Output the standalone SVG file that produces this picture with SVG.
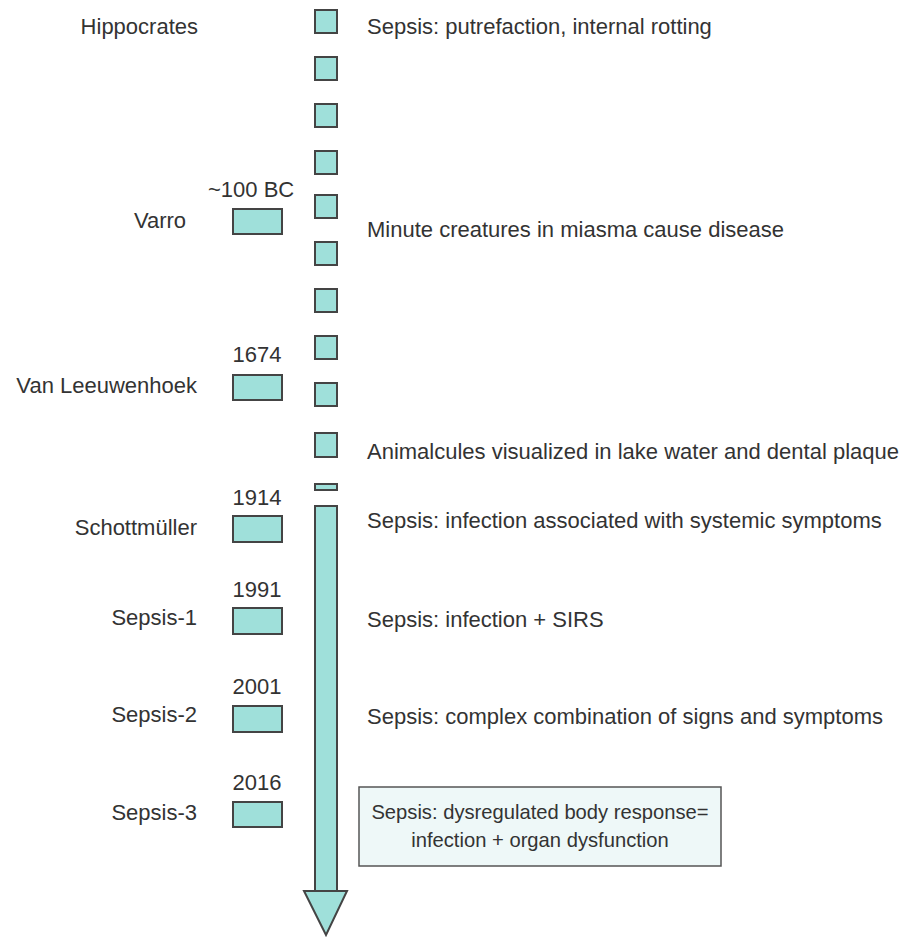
<svg xmlns="http://www.w3.org/2000/svg" width="903" height="937" viewBox="0 0 903 937">
<style>
text{font-family:"Liberation Sans",Arial,sans-serif;font-size:22px;fill:#333}
.l{text-anchor:end}
.c{text-anchor:middle}
.s{font-size:20.2px}
.b{fill:#9fe0da;stroke:#444;stroke-width:2}
.box{fill:#eef8f8;stroke:#555;stroke-width:1.5}
</style>
<rect width="903" height="937" fill="#fff"/>
<g id="timeline">
<rect class="b" x="315" y="10" width="22" height="23"/>
<rect class="b" x="315" y="57" width="22" height="23"/>
<rect class="b" x="315" y="104" width="22" height="23"/>
<rect class="b" x="315" y="151" width="22" height="23"/>
<rect class="b" x="315" y="195" width="22" height="23"/>
<rect class="b" x="315" y="242" width="22" height="23"/>
<rect class="b" x="315" y="289" width="22" height="23"/>
<rect class="b" x="315" y="336" width="22" height="23"/>
<rect class="b" x="315" y="383" width="22" height="23"/>
<rect class="b" x="315" y="433" width="22" height="24"/>
<rect class="b" x="315" y="484" width="22" height="6"/>
<rect class="b" x="315" y="506" width="22" height="386"/>
<polygon class="b" points="304,891 347,891 326,935"/>
</g>
<g id="hippocrates">
<text class="l" x="198" y="34">Hippocrates</text>
<text x="367" y="34">Sepsis: putrefaction, internal rotting</text>
</g>
<g id="varro">
<text x="208" y="197">~100 BC</text>
<rect class="b" x="233" y="209" width="49" height="25"/>
<text class="c" x="160" y="228">Varro</text>
<text x="367" y="237">Minute creatures in miasma cause disease</text>
</g>
<g id="leeuwenhoek">
<text class="c" x="257" y="362">1674</text>
<rect class="b" x="233" y="375" width="49" height="25"/>
<text class="l" x="197" y="393">Van Leeuwenhoek</text>
<text x="367" y="459">Animalcules visualized in lake water and dental plaque</text>
</g>
<g id="schottmuller">
<text class="c" x="257" y="505">1914</text>
<rect class="b" x="233" y="516" width="49" height="26"/>
<text class="l" x="197" y="535">Schottmüller</text>
<text x="367" y="528">Sepsis: infection associated with systemic symptoms</text>
</g>
<g id="sepsis1">
<text class="c" x="257" y="597">1991</text>
<rect class="b" x="233" y="608" width="49" height="26"/>
<text class="l" x="197" y="625">Sepsis-1</text>
<text x="367" y="627">Sepsis: infection + SIRS</text>
</g>
<g id="sepsis2">
<text class="c" x="257" y="694">2001</text>
<rect class="b" x="233" y="706" width="49" height="26"/>
<text class="l" x="197" y="722">Sepsis-2</text>
<text x="367" y="724">Sepsis: complex combination of signs and symptoms</text>
</g>
<g id="sepsis3">
<text class="c" x="257" y="790">2016</text>
<rect class="b" x="233" y="802" width="49" height="25"/>
<text class="l" x="197" y="820">Sepsis-3</text>
<rect class="box" x="359" y="787" width="362" height="79"/>
<text class="c s" x="540" y="819">Sepsis: dysregulated body response=</text>
<text class="c s" x="540" y="847">infection + organ dysfunction</text>
</g>
</svg>
